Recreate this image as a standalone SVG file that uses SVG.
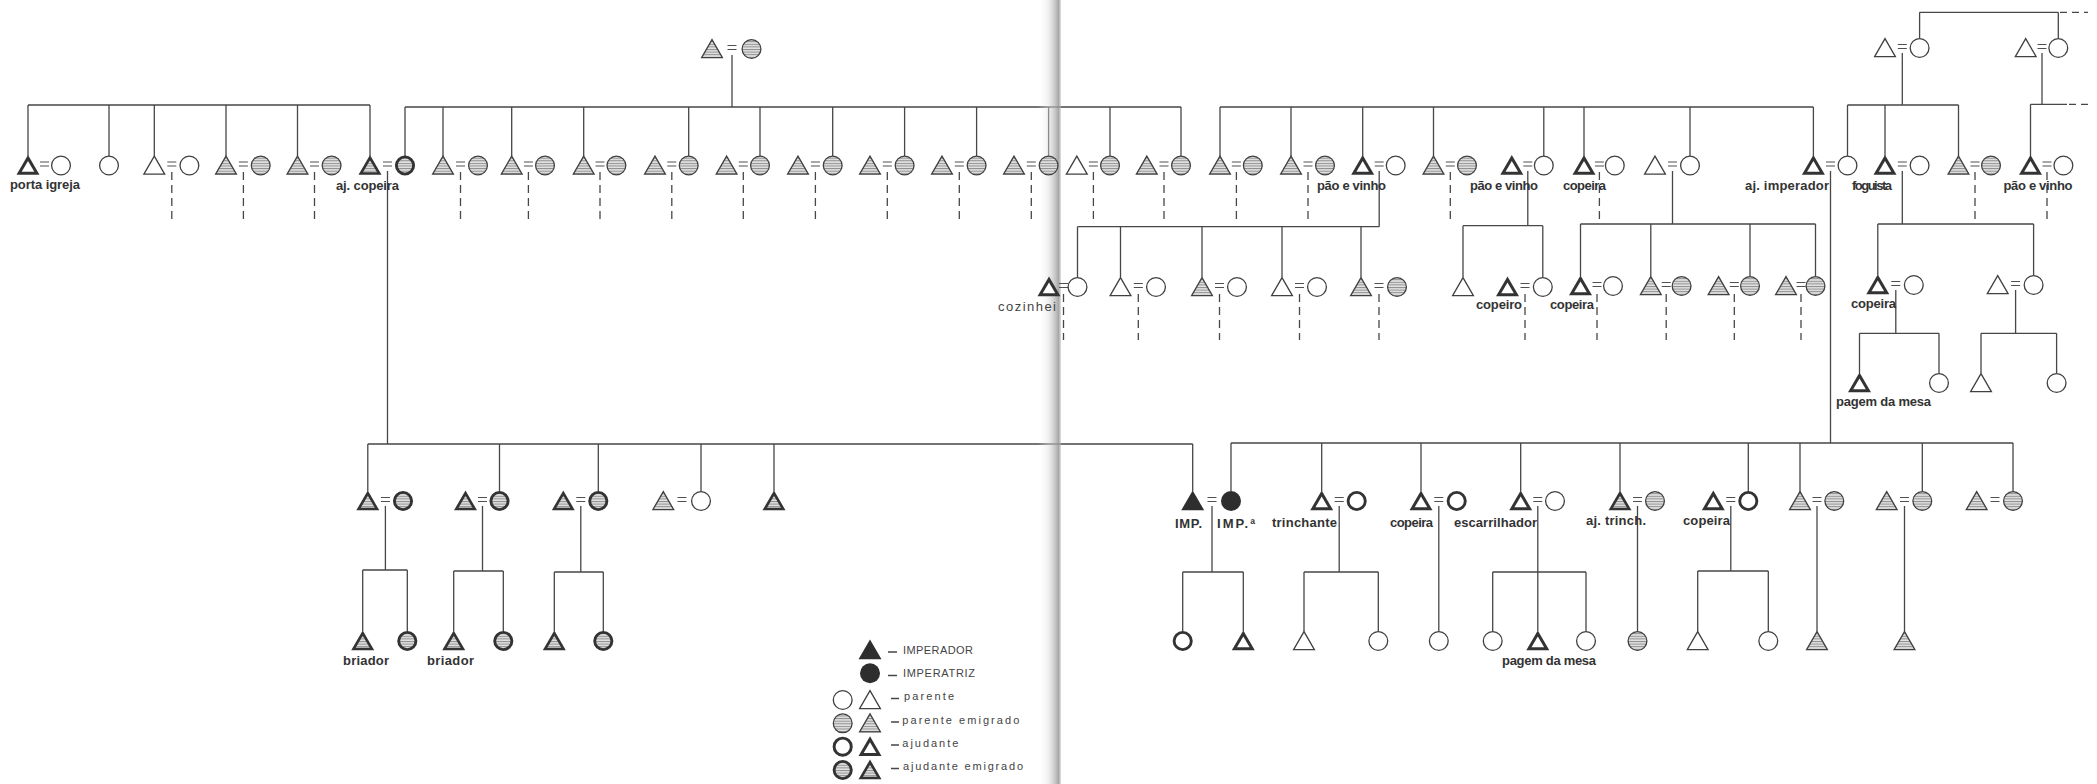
<svg xmlns="http://www.w3.org/2000/svg" width="2097" height="784" viewBox="0 0 2097 784">
<style>
.l{fill:none;stroke:#474747;stroke-width:1.3}
.d{fill:none;stroke:#474747;stroke-width:1.3;stroke-dasharray:8 5}
.dt{fill:none;stroke:#474747;stroke-width:1.3;stroke-dasharray:7 5}
.lb{font-family:"Liberation Sans",Arial,sans-serif;font-weight:bold;font-size:13px;fill:#333}
.lr{font-family:"Liberation Sans",Arial,sans-serif;font-size:13px;fill:#444}
.lg{font-family:"Liberation Sans",Arial,sans-serif;font-size:11px;fill:#444}
</style>
<defs>
<pattern id="h" width="6" height="2.6" patternUnits="userSpaceOnUse">
<rect width="6" height="2.6" fill="#e2e2e2"/>
<rect width="6" height="1" fill="#8e8e8e"/>
</pattern>
<linearGradient id="fold" x1="0" x2="1" y1="0" y2="0">
<stop offset="0" stop-color="#ffffff" stop-opacity="0"/>
<stop offset="0.45" stop-color="#dcdcdc" stop-opacity="0.45"/>
<stop offset="0.78" stop-color="#ababab" stop-opacity="0.75"/>
<stop offset="0.9" stop-color="#959595" stop-opacity="0.85"/>
<stop offset="1" stop-color="#c0c0c0" stop-opacity="0.5"/>
</linearGradient>
<path id="tP" d="M0,-9.4 L10.4,8.6 L-10.4,8.6 Z" fill="#fff" stroke="#404040" stroke-width="1.3"/>
<path id="tE" d="M0,-9.4 L10.4,8.6 L-10.4,8.6 Z" fill="url(#h)" stroke="#404040" stroke-width="1.3"/>
<g id="tA"><path d="M0,-10.5 L11.5,9.3 L-11.5,9.3 Z" fill="#333"/><path d="M0,-4.5 L6.3,6.3 L-6.3,6.3 Z" fill="#fff"/></g>
<g id="tAE"><path d="M0,-10.5 L11.5,9.3 L-11.5,9.3 Z" fill="#333"/><path d="M0,-5.3 L7,6.7 L-7,6.7 Z" fill="url(#h)"/></g>
<path id="tK" d="M0,-10.5 L11.5,9.3 L-11.5,9.3 Z" fill="#2e2e2e"/>
<circle id="cP" r="9.4" fill="#fff" stroke="#404040" stroke-width="1.3"/>
<circle id="cE" r="9.4" fill="url(#h)" stroke="#404040" stroke-width="1.3"/>
<circle id="cA" r="8.6" fill="#fff" stroke="#333" stroke-width="2.9"/>
<circle id="cAE" r="8.6" fill="url(#h)" stroke="#333" stroke-width="2.9"/>
<circle id="cK" r="10" fill="#2e2e2e"/>
<path id="eq" d="M-4.5,-3.5 H4.5 M-4.5,0.5 H4.5" stroke="#505050" stroke-width="1.2"/>
</defs>
<rect width="2097" height="784" fill="#fff"/>

<g id="connectors">
<path class="l" d="M28,105 H370 M28,105 V156 M109,105 V156 M154.3,105 V156 M226,105 V156 M297.5,105 V156 M370,105 V156"/>
<path class="l" d="M732,55 V107 M405,107 H1181 M405,107 V156 M443,107 V156 M511.7,107 V156 M583.7,107 V156 M688.7,107 V156 M760,107 V156 M832.7,107 V156 M904.6,107 V156 M976.6,107 V156 M1048.6,107 V156 M1110,107 V156 M1181,107 V156"/>
<path class="l" d="M1220,107 H1813.4 M1220,107 V156 M1291,107 V156 M1362.7,107 V156 M1433.5,107 V156 M1543.8,107 V156 M1584,107 V156 M1690,107 V156 M1813.4,107 V156"/>
<path class="l" d="M1919.6,12.3 H2058.3 M1919.6,12.3 V38.6 M2058.3,12.3 V38.6"/>
<path class="dt" d="M2060,12.3 H2088"/>
<path class="l" d="M1902.3,53 V105 M1847.5,105 H1958.5 M1847.5,105 V156 M1885,105 V156 M1958.5,105 V156"/>
<path class="l" d="M2042,53 V104.3 M2030.5,104.3 H2067 M2030.5,104.3 V156"/>
<path class="dt" d="M2069,104.3 H2088"/>
<path class="d" d="M171.8,172 V220 M243.4,172 V220 M314.5,172 V220 M460.5,172 V220 M528.4,172 V220 M600,172 V220 M671.8,172 V220 M743.3,172 V220 M815.4,172 V220 M887.3,172 V220 M959.3,172 V220 M1031.3,172 V220 M1093.4,172 V220 M1164,172 V220 M1236.4,172 V220 M1308,172 V220 M1450.3,172 V220 M1599.4,172 V220 M1975,172 V220 M2047,172 V220"/>
<path class="l" d="M387.5,171 V444"/>
<path class="l" d="M1379.2,171 V226.7 M1077.5,226.7 H1379.2 M1077.5,226.7 V277.6 M1120.5,226.7 V277 M1202,226.7 V277 M1282,226.7 V277 M1361,226.7 V277"/>
<path class="l" d="M1527.8,171 V225.7 M1463,225.7 H1542.8 M1463,225.7 V277 M1542.8,225.7 V277.6"/>
<path class="l" d="M1672.5,171 V224 M1580.5,224 H1815.5 M1580.5,224 V276 M1650.8,224 V276 M1750,224 V276.6 M1815.5,224 V276.6"/>
<path class="l" d="M1830.5,171 V443"/>
<path class="l" d="M1902.3,171 V224 M1877.8,224 H2033.6 M1877.8,224 V275 M2033.6,224 V275.6"/>
<path class="d" d="M1063.5,294 V340 M1138.3,294 V340 M1219.5,294 V340 M1299.5,294 V340 M1379,294 V340 M1525,294 V340 M1597,294 V340 M1666.2,294 V340 M1734.3,294 V340 M1801,294 V340"/>
<path class="l" d="M1895.8,290 V333.3 M1859.5,333.3 H1939 M1859.5,333.3 V373 M1939,333.3 V373.6"/>
<path class="l" d="M2015.6,290 V333.3 M1981,333.3 H2056.6 M1981,333.3 V373 M2056.6,333.3 V373.6"/>
<path class="l" d="M367.8,444 H1192.7 M367.8,444 V491 M499.5,444 V491.6 M598.3,444 V491.6 M701,444 V491.6 M774,444 V491 M1192.7,444 V491"/>
<path class="l" d="M1231,443 H2013 M1231,443 V491 M1321.7,443 V491 M1421,443 V491 M1520.7,443 V491 M1620,443 V491 M1748.3,443 V491.6 M1800,443 V491.6 M1922.3,443 V491.6 M2013,443 V491.6"/>
<path class="l" d="M385.4,506 V570 M362.7,570 H407.3 M362.7,570 V631 M407.3,570 V631.6"/>
<path class="l" d="M482.5,506 V571 M453.7,571 H503.3 M453.7,571 V631 M503.3,571 V631.6"/>
<path class="l" d="M580.8,506 V572 M554.3,572 H603.3 M554.3,572 V631 M603.3,572 V631.6"/>
<path class="l" d="M1212,506 V572 M1182.7,572 H1243.3 M1182.7,572 V631.6 M1243.3,572 V631"/>
<path class="l" d="M1339.2,506 V572 M1304,572 H1378.3 M1304,572 V631.6 M1378.3,572 V631.6"/>
<path class="l" d="M1438.8,506 V631.6"/>
<path class="l" d="M1537.8,506 V631 M1492.7,572 H1586 M1492.7,572 V631.6 M1586,572 V631.6"/>
<path class="l" d="M1637.5,506 V631.6"/>
<path class="l" d="M1730.8,506 V571 M1697.7,571 H1768.3 M1697.7,571 V631.6 M1768.3,571 V631.6"/>
<path class="l" d="M1817,506 V631.6"/>
<path class="l" d="M1904.5,506 V631.6"/>
</g>

<rect x="1038" y="0" width="23" height="784" fill="url(#fold)"/>

<g id="n-top-center"><use href="#tE" x="712" y="49"/><use href="#eq" x="732" y="49"/><use href="#cE" x="751.5" y="49"/></g>
<g id="n-top-left"><use href="#tP" x="1885" y="48"/><use href="#eq" x="1902.3" y="48"/><use href="#cP" x="1919.6" y="48"/></g>
<g id="n-top-right"><use href="#tP" x="2025.7" y="48"/><use href="#eq" x="2042" y="48"/><use href="#cP" x="2058.3" y="48"/></g>

<g id="n1"><use href="#tA" x="28" y="165.5"/><use href="#eq" x="44.5" y="165.5"/><use href="#cP" x="61" y="165.5"/><text class="lb" x="10" y="189" textLength="70">porta igreja</text></g>
<g id="n2"><use href="#cP" x="109" y="165.5"/></g>
<g id="n3"><use href="#tP" x="154.3" y="165.5"/><use href="#eq" x="171.8" y="165.5"/><use href="#cP" x="189.4" y="165.5"/></g>
<g id="n4"><use href="#tE" x="226" y="165.5"/><use href="#eq" x="243.4" y="165.5"/><use href="#cE" x="260.7" y="165.5"/></g>
<g id="n5"><use href="#tE" x="297.5" y="165.5"/><use href="#eq" x="314.5" y="165.5"/><use href="#cE" x="331.6" y="165.5"/></g>
<g id="n6"><use href="#tAE" x="370" y="165.5"/><use href="#eq" x="387.5" y="165.5"/><use href="#cAE" x="405" y="165.5"/><text class="lb" x="336" y="190" textLength="63">aj. copeira</text></g>
<g id="n7"><use href="#tE" x="443" y="165.5"/><use href="#eq" x="460.5" y="165.5"/><use href="#cE" x="478" y="165.5"/></g>
<g id="n8"><use href="#tE" x="511.7" y="165.5"/><use href="#eq" x="528.4" y="165.5"/><use href="#cE" x="545" y="165.5"/></g>
<g id="n9"><use href="#tE" x="583.7" y="165.5"/><use href="#eq" x="600" y="165.5"/><use href="#cE" x="616.4" y="165.5"/></g>
<g id="n10"><use href="#tE" x="655" y="165.5"/><use href="#eq" x="671.8" y="165.5"/><use href="#cE" x="688.7" y="165.5"/></g>
<g id="n11"><use href="#tE" x="726.6" y="165.5"/><use href="#eq" x="743.3" y="165.5"/><use href="#cE" x="760" y="165.5"/></g>
<g id="n12"><use href="#tE" x="798" y="165.5"/><use href="#eq" x="815.4" y="165.5"/><use href="#cE" x="832.7" y="165.5"/></g>
<g id="n13"><use href="#tE" x="870" y="165.5"/><use href="#eq" x="887.3" y="165.5"/><use href="#cE" x="904.6" y="165.5"/></g>
<g id="n14"><use href="#tE" x="942" y="165.5"/><use href="#eq" x="959.3" y="165.5"/><use href="#cE" x="976.6" y="165.5"/></g>
<g id="n15"><use href="#tE" x="1014" y="165.5"/><use href="#eq" x="1031.3" y="165.5"/><use href="#cE" x="1048.6" y="165.5"/></g>
<g id="n16"><use href="#tP" x="1076.8" y="165.5"/><use href="#eq" x="1093.4" y="165.5"/><use href="#cE" x="1110" y="165.5"/></g>
<g id="n17"><use href="#tE" x="1146.8" y="165.5"/><use href="#eq" x="1164" y="165.5"/><use href="#cE" x="1181" y="165.5"/></g>
<g id="n18"><use href="#tE" x="1220" y="165.5"/><use href="#eq" x="1236.4" y="165.5"/><use href="#cE" x="1252.8" y="165.5"/></g>
<g id="n19"><use href="#tE" x="1291" y="165.5"/><use href="#eq" x="1308" y="165.5"/><use href="#cE" x="1325" y="165.5"/></g>
<g id="n20"><use href="#tA" x="1362.7" y="165.5"/><use href="#eq" x="1379.2" y="165.5"/><use href="#cP" x="1395.7" y="165.5"/><text class="lb" x="1317" y="190" textLength="69">pão e vinho</text></g>
<g id="n21"><use href="#tE" x="1433.5" y="165.5"/><use href="#eq" x="1450.3" y="165.5"/><use href="#cE" x="1467" y="165.5"/></g>
<g id="n22"><use href="#tA" x="1511.8" y="165.5"/><use href="#eq" x="1527.8" y="165.5"/><use href="#cP" x="1543.8" y="165.5"/><text class="lb" x="1470" y="190" textLength="68">pão e vinho</text></g>
<g id="n23"><use href="#tA" x="1584" y="165.5"/><use href="#eq" x="1599.4" y="165.5"/><use href="#cP" x="1614.8" y="165.5"/><text class="lb" x="1563" y="190" textLength="43">copeira</text></g>
<g id="n24"><use href="#tP" x="1655" y="165.5"/><use href="#eq" x="1672.5" y="165.5"/><use href="#cP" x="1690" y="165.5"/></g>
<g id="n25"><use href="#tA" x="1813.4" y="165.5"/><use href="#eq" x="1830.5" y="165.5"/><use href="#cP" x="1847.5" y="165.5"/><text class="lb" x="1745" y="190" textLength="84">aj. imperador</text></g>
<g id="n26"><use href="#tA" x="1885" y="165.5"/><use href="#eq" x="1902.3" y="165.5"/><use href="#cP" x="1919.6" y="165.5"/><text class="lb" x="1852" y="190" textLength="40">foguista</text></g>
<g id="n27"><use href="#tE" x="1958.5" y="165.5"/><use href="#eq" x="1975" y="165.5"/><use href="#cE" x="1991" y="165.5"/></g>
<g id="n28"><use href="#tA" x="2030.5" y="165.5"/><use href="#eq" x="2047" y="165.5"/><use href="#cP" x="2063.4" y="165.5"/><text class="lb" x="2003.5" y="190" textLength="69">pão e vinho</text></g>

<g id="r2-cozinheiro"><use href="#tA" x="1049" y="287"/><use href="#eq" x="1063.5" y="287"/><use href="#cP" x="1077.5" y="287"/><text class="lr" x="998" y="311" textLength="58">cozinhei</text></g>
<g id="r2-c2"><use href="#tP" x="1120.5" y="287"/><use href="#eq" x="1138.3" y="287"/><use href="#cP" x="1156" y="287"/></g>
<g id="r2-c3"><use href="#tE" x="1202" y="287"/><use href="#eq" x="1219.5" y="287"/><use href="#cP" x="1237" y="287"/></g>
<g id="r2-c4"><use href="#tP" x="1282" y="287"/><use href="#eq" x="1299.5" y="287"/><use href="#cP" x="1317" y="287"/></g>
<g id="r2-c5"><use href="#tE" x="1361" y="287"/><use href="#eq" x="1379" y="287"/><use href="#cE" x="1397" y="287"/></g>
<g id="r2-d1"><use href="#tP" x="1463" y="287"/></g>
<g id="r2-d2"><use href="#tA" x="1507.5" y="287"/><use href="#eq" x="1525" y="287"/><use href="#cP" x="1542.8" y="287"/><text class="lb" x="1476" y="309" textLength="46">copeiro</text></g>
<g id="r2-e1"><use href="#tA" x="1580.5" y="286"/><use href="#eq" x="1597" y="286"/><use href="#cP" x="1613" y="286"/><text class="lb" x="1550" y="309" textLength="44">copeira</text></g>
<g id="r2-e2"><use href="#tE" x="1650.8" y="286"/><use href="#eq" x="1666.2" y="286"/><use href="#cE" x="1681.6" y="286"/></g>
<g id="r2-e3"><use href="#tE" x="1718.6" y="286"/><use href="#eq" x="1734.3" y="286"/><use href="#cE" x="1750" y="286"/></g>
<g id="r2-e4"><use href="#tE" x="1786" y="286"/><use href="#eq" x="1801" y="286"/><use href="#cE" x="1815.5" y="286"/></g>
<g id="r2-f1"><use href="#tA" x="1877.8" y="285"/><use href="#eq" x="1895.8" y="285"/><use href="#cP" x="1913.8" y="285"/><text class="lb" x="1851" y="308" textLength="45">copeira</text></g>
<g id="r2-f2"><use href="#tP" x="1997.7" y="285"/><use href="#eq" x="2015.6" y="285"/><use href="#cP" x="2033.6" y="285"/></g>
<g id="f1-son"><use href="#tA" x="1859.5" y="383"/><text class="lb" x="1836" y="406" textLength="95">pagem da mesa</text></g>
<g id="f1-daughter"><use href="#cP" x="1939" y="383"/></g>
<g id="f2-son"><use href="#tP" x="1981" y="383"/></g>
<g id="f2-daughter"><use href="#cP" x="2056.6" y="383"/></g>

<g id="g1"><use href="#tAE" x="367.8" y="501"/><use href="#eq" x="385.4" y="501"/><use href="#cAE" x="403" y="501"/></g>
<g id="g2"><use href="#tAE" x="465.5" y="501"/><use href="#eq" x="482.5" y="501"/><use href="#cAE" x="499.5" y="501"/></g>
<g id="g3"><use href="#tAE" x="563.3" y="501"/><use href="#eq" x="580.8" y="501"/><use href="#cAE" x="598.3" y="501"/></g>
<g id="g4"><use href="#tE" x="663.3" y="501"/><use href="#eq" x="682" y="501"/><use href="#cP" x="701" y="501"/></g>
<g id="g5"><use href="#tAE" x="774" y="501"/></g>
<g id="imp"><use href="#tK" x="1192.7" y="501"/><use href="#eq" x="1212" y="501"/><use href="#cK" x="1231" y="501"/><text class="lb" x="1175" y="528" textLength="27">IMP.</text><text class="lb" x="1217" y="528" textLength="38">IMP.ª</text></g>
<g id="trinchante"><use href="#tA" x="1321.7" y="501"/><use href="#eq" x="1339.2" y="501"/><use href="#cA" x="1356.7" y="501"/><text class="lb" x="1272" y="527" textLength="65">trinchante</text></g>
<g id="copeira-a"><use href="#tA" x="1421" y="501"/><use href="#eq" x="1438.8" y="501"/><use href="#cA" x="1456.7" y="501"/><text class="lb" x="1390" y="527" textLength="43">copeira</text></g>
<g id="escarrilhador"><use href="#tA" x="1520.7" y="501"/><use href="#eq" x="1537.8" y="501"/><use href="#cP" x="1555" y="501"/><text class="lb" x="1454" y="527" textLength="83">escarrilhador</text></g>
<g id="aj-trinch"><use href="#tAE" x="1620" y="501"/><use href="#eq" x="1637.5" y="501"/><use href="#cE" x="1655" y="501"/><text class="lb" x="1586" y="525" textLength="60">aj. trinch.</text></g>
<g id="copeira-b"><use href="#tA" x="1713.3" y="501"/><use href="#eq" x="1730.8" y="501"/><use href="#cA" x="1748.3" y="501"/><text class="lb" x="1683" y="525" textLength="47">copeira</text></g>
<g id="h1"><use href="#tE" x="1800" y="501"/><use href="#eq" x="1817" y="501"/><use href="#cE" x="1834.3" y="501"/></g>
<g id="h2"><use href="#tE" x="1886.7" y="501"/><use href="#eq" x="1904.5" y="501"/><use href="#cE" x="1922.3" y="501"/></g>
<g id="h3"><use href="#tE" x="1976.7" y="501"/><use href="#eq" x="1995" y="501"/><use href="#cE" x="2013" y="501"/></g>

<g id="g1-son"><use href="#tAE" x="362.7" y="641"/><text class="lb" x="343" y="665" textLength="46">briador</text></g>
<g id="g1-daughter"><use href="#cAE" x="407.3" y="641"/></g>
<g id="g2-son"><use href="#tAE" x="453.7" y="641"/><text class="lb" x="427" y="665" textLength="47">briador</text></g>
<g id="g2-daughter"><use href="#cAE" x="503.3" y="641"/></g>
<g id="g3-son"><use href="#tAE" x="554.3" y="641"/></g>
<g id="g3-daughter"><use href="#cAE" x="603.3" y="641"/></g>
<g id="imp-daughter"><use href="#cA" x="1182.7" y="641"/></g>
<g id="imp-son"><use href="#tA" x="1243.3" y="641"/></g>
<g id="tr-son"><use href="#tP" x="1304" y="641"/></g>
<g id="tr-daughter"><use href="#cP" x="1378.3" y="641"/></g>
<g id="cpa-daughter"><use href="#cP" x="1438.8" y="641"/></g>
<g id="es-daughter1"><use href="#cP" x="1492.7" y="641"/></g>
<g id="es-son"><use href="#tA" x="1537.8" y="641"/><text class="lb" x="1502" y="665" textLength="94">pagem da mesa</text></g>
<g id="es-daughter2"><use href="#cP" x="1586" y="641"/></g>
<g id="at-daughter"><use href="#cE" x="1637.5" y="641"/></g>
<g id="cpb-son"><use href="#tP" x="1697.7" y="641"/></g>
<g id="cpb-daughter"><use href="#cP" x="1768.3" y="641"/></g>
<g id="h1-son"><use href="#tE" x="1817" y="641"/></g>
<g id="h2-son"><use href="#tE" x="1904.5" y="641"/></g>

<g id="legend">
<use href="#tK" x="870" y="650"/>
<use href="#cK" x="870" y="673.3"/>
<use href="#cP" x="842.7" y="700"/><use href="#tP" x="870" y="700"/>
<use href="#cE" x="842.7" y="723.3"/><use href="#tE" x="870" y="723.3"/>
<use href="#cA" x="842.7" y="746.7"/><use href="#tA" x="870" y="746.7"/>
<use href="#cAE" x="842.7" y="770"/><use href="#tAE" x="870" y="770"/>
<path class="l" d="M888,652 H897 M888,675.5 H897 M891,698.5 H899 M891,722 H899 M891,745 H899 M891,768.5 H899"/>
<text class="lg" x="903" y="654" textLength="70">IMPERADOR</text>
<text class="lg" x="903" y="677" textLength="72">IMPERATRIZ</text>
<text class="lg" x="904" y="700" textLength="50">parente</text>
<text class="lg" x="902.3" y="723.5" textLength="117">parente emigrado</text>
<text class="lg" x="902.3" y="746.5" textLength="56">ajudante</text>
<text class="lg" x="903" y="770" textLength="120">ajudante emigrado</text>
</g>
</svg>
